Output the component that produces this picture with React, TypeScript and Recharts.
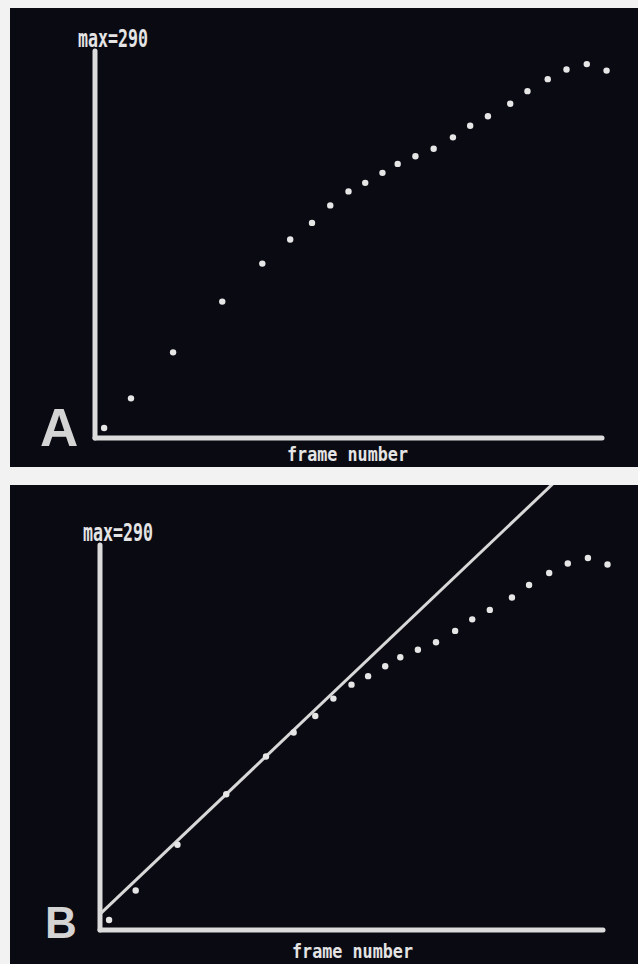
import { ScatterChart, Scatter, XAxis, YAxis, ReferenceLine } from "recharts";

// frame number (axis length = 100) and intensity (axis height = max 290)
const frames = [
  1.8, 7.1, 15.4, 25.1, 33.0, 38.5, 42.8, 46.4, 50.0, 53.3, 56.7, 59.7, 63.2,
  66.8, 70.6, 74.0, 77.5, 81.9, 85.3, 89.3, 93.0, 97.0, 100.9,
];
const intensity = [
  7.5, 29.7, 64.2, 102.2, 130.7, 148.8, 161.2, 174.3, 184.8, 191.2, 198.7,
  205.4, 211.1, 216.7, 225.3, 234.0, 241.1, 250.5, 259.9, 268.9, 276.1, 280.2,
  275.3,
];
// straight line fitted to the first frames (panel B)
const fitLine = [
  { x: 0, y: 12 },
  { x: 100, y: 372 },
];

const X_MAX = 100;
const Y_MAX = 290;

const points = frames.map((x, i) => ({ x, y: intensity[i] }));

const BG = "#0a0a13";
const FG = "#dcdcdc";

type PanelProps = {
  letter: string;
  top: number;
  height: number;
  ox: number;
  oy: number;
  xLen: number;
  yLen: number;
  letterSize: number;
  fit?: boolean;
};

const W = 628;

function Dot(props: any) {
  const { cx, cy } = props;
  if (cx == null || cy == null) return null;
  return <circle cx={cx} cy={cy} r={3.2} fill="#e6e6e6" />;
}

function Panel({ letter, top, height, ox, oy, xLen, yLen, letterSize, fit }: PanelProps) {
  const sx = xLen / X_MAX;
  const sy = yLen / Y_MAX;
  const xDomain = [-ox / sx, (W - ox) / sx];
  const yDomain = [-(height - oy) / sy, oy / sy];
  const mono = "'DejaVu Sans Mono', monospace";

  return (
    <div
      style={{
        position: "absolute",
        left: 10,
        top,
        width: W,
        height,
        background: BG,
      }}
    >
      <ScatterChart width={W} height={height} margin={{ top: 0, right: 0, bottom: 0, left: 0 }}>
        <XAxis type="number" dataKey="x" domain={xDomain} allowDataOverflow hide />
        <YAxis type="number" dataKey="y" domain={yDomain} allowDataOverflow hide />
        <ReferenceLine
          segment={[{ x: 0, y: 0 }, { x: 0, y: Y_MAX }]}
          stroke={FG}
          strokeWidth={5}
          strokeLinecap="round"
          ifOverflow="visible"
        />
        <ReferenceLine
          segment={[{ x: 0, y: 0 }, { x: X_MAX, y: 0 }]}
          stroke={FG}
          strokeWidth={5}
          strokeLinecap="round"
          ifOverflow="visible"
        />
        {fit && (
          <ReferenceLine
            segment={[fitLine[0], fitLine[1]]}
            stroke="#d8d8d8"
            strokeWidth={3}
            ifOverflow="hidden"
          />
        )}
        <Scatter data={points} shape={Dot} isAnimationActive={false} />
      </ScatterChart>
      <svg
        width={W}
        height={height}
        style={{ position: "absolute", left: 0, top: 0, pointerEvents: "none" }}
      >
        <text
          x={ox - 17}
          y={oy - yLen - 4}
          fontFamily={mono}
          fontWeight="bold"
          fontSize={25}
          fill="#e4e4e4"
          textLength={70}
          lengthAdjust="spacingAndGlyphs"
        >
          max=290
        </text>
        <text
          x={ox + 192}
          y={height - 6}
          fontFamily={mono}
          fontWeight="bold"
          fontSize={20}
          fill="#e4e4e4"
          textLength={121}
          lengthAdjust="spacingAndGlyphs"
        >
          frame number
        </text>
        <text
          x={ox - 55}
          y={oy + 8}
          fontFamily="'Liberation Sans', Arial, sans-serif"
          fontWeight="bold"
          fontSize={letterSize}
          fill="#d4d4d4"
        >
          {letter}
        </text>
      </svg>
    </div>
  );
}

export default function App() {
  return (
    <div
      style={{
        position: "absolute",
        left: 0,
        top: 0,
        width: 638,
        height: 964,
        background: "#f2f2f2",
        overflow: "hidden",
      }}
    >
      <Panel letter="A" top={8} height={459} ox={85} oy={430} xLen={507} yLen={387} letterSize={53} />
      <Panel letter="B" top={485} height={479} ox={90} oy={445} xLen={503} yLen={385} letterSize={44} fit />
    </div>
  );
}
